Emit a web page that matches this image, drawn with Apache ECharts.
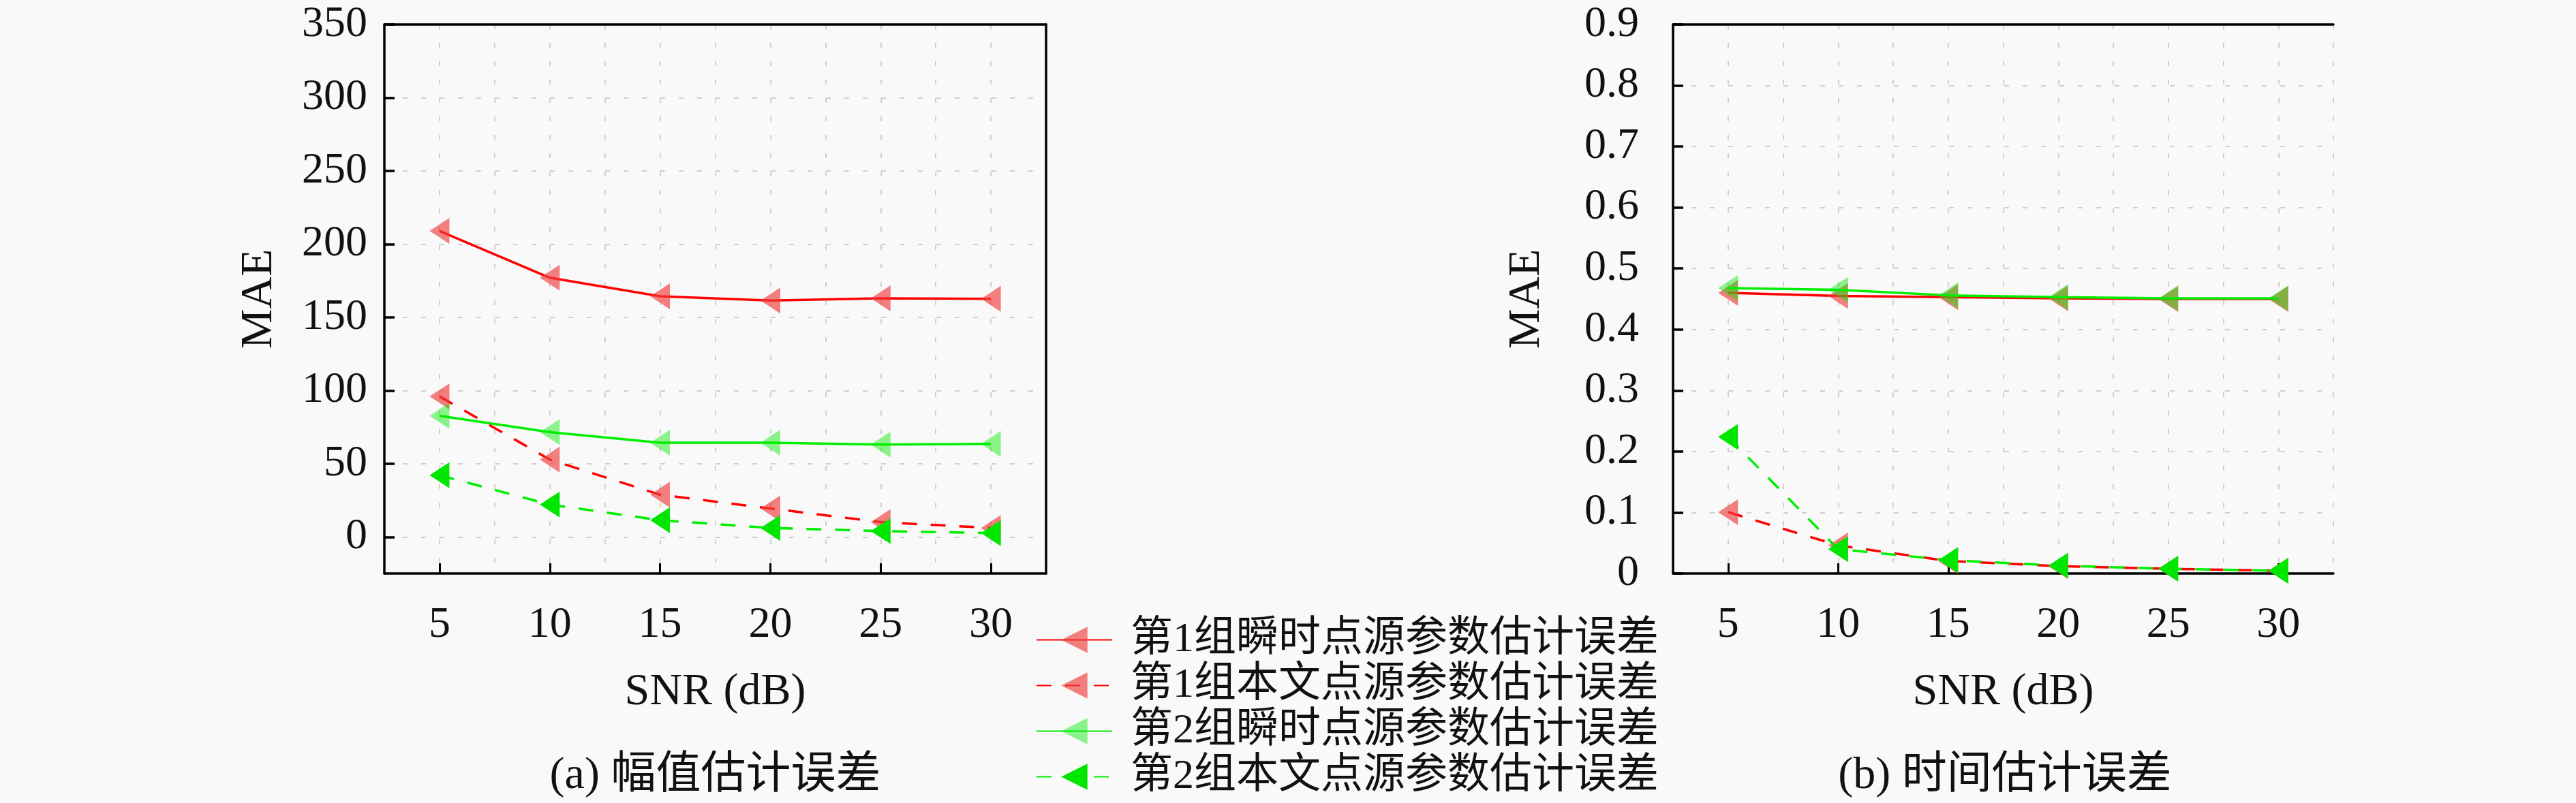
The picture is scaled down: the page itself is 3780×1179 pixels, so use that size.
<!DOCTYPE html>
<html>
<head>
<meta charset="utf-8">
<script src="https://cdn.jsdelivr.net/npm/echarts@6/dist/echarts.min.js"></script>
<style>
html,body{margin:0;padding:0;background:#f9f9f9;}
#c{width:3780px;height:1179px;}
</style>
</head>
<body>
<div id="c"></div>
<script>
// ---- data ----
const snr = [5, 10, 15, 20, 25, 30];
const seriesNames = ['第1组瞬时点源参数估计误差', '第1组本文点源参数估计误差', '第2组瞬时点源参数估计误差', '第2组本文点源参数估计误差'];
const ampInst1 = [209, 177, 164.4, 161.5, 163, 162.6];
const ampOurs1 = [96, 52.8, 28.8, 19.4, 10.1, 6.1];
const ampInst2 = [82.7, 71.5, 64.3, 64.3, 63, 63.5];
const ampOurs2 = [42.1, 22.1, 11.4, 6.1, 4.0, 2.6];
const timeInst1 = [0.460, 0.455, 0.453, 0.451, 0.450, 0.450];
const timeOurs1 = [0.1006, 0.046, 0.0205, 0.012, 0.0077, 0.0045];
const timeInst2 = [0.468, 0.465, 0.456, 0.453, 0.451, 0.451];
const timeOurs2 = [0.224, 0.040, 0.022, 0.0128, 0.0077, 0.0045];
const xRange = [2.5, 32.5];     // plotted x extent
const xTickRange = [5, 30];     // labelled x ticks, step 5
const ampRange = [-25, 350];    // plotted y extent (a)
const ampTickRange = [0, 350];  // labelled y ticks (a), step 50
const timeRange = [0, 0.9];     // y extent (b), step 0.1
const subTitles = ['(a) 幅值估计误差', '(b) 时间估计误差'];
const axisTitleX = 'SNR (dB)';
const axisTitleY = 'MAE';

// ---- layout / styles ----
const FONT = "'Liberation Serif', 'Noto Sans CJK SC', serif";
const P = [
  { left: 564, top: 36, width: 971, height: 806 },
  { left: 2455, top: 36, width: 969, height: 806 }
];
const gridLine = { show: true, lineStyle: { color: '#cfcfcf', width: 2, type: [7, 20] } };
const blackLine = { show: true, onZero: false, lineStyle: { color: '#000', width: 3.5 } };
const styles = [
  { line: '#ff0000', type: 'solid', marker: 'rgba(238,60,60,0.65)' },
  { line: '#ff0000', type: [22, 20], marker: 'rgba(238,60,60,0.65)' },
  { line: '#00ee00', type: 'solid', marker: 'rgba(0,235,0,0.45)' },
  { line: '#00ee00', type: [22, 20], marker: '#00e600' }
];
const none = { show: false };

function zip(xs, ys) { return xs.map((x, i) => [x, ys[i]]); }

// helper grid spanning only the labelled x tick range
function subX(p) {
  const k = p.width / (xRange[1] - xRange[0]);
  return { left: p.left + (xTickRange[0] - xRange[0]) * k, width: (xTickRange[1] - xTickRange[0]) * k, top: p.top, height: p.height };
}
// helper grid spanning only the labelled y tick range for (a)
function subY(p) {
  const k = p.height / (ampRange[1] - ampRange[0]);
  return { left: p.left, width: p.width, top: p.top + (ampRange[1] - ampTickRange[1]) * k, height: (ampTickRange[1] - ampTickRange[0]) * k };
}

const grids = [P[0], P[1], subX(P[0]), subY(P[0]), subX(P[1])];

const xAxes = [];
const yAxes = [];
function hiddenAxis(gridIndex, min, max) {
  return { type: 'value', gridIndex, min, max, axisLine: none, axisTick: none, axisLabel: none, splitLine: none };
}

// main x axes (0: plot a, 1: plot b): vertical grid every 2.5, labels at 5..30
[0, 1].forEach(g => {
  xAxes.push({ type: 'value', gridIndex: g, position: 'bottom', min: xRange[0], max: xRange[1], interval: 2.5,
    axisLine: blackLine, axisTick: none,
    axisLabel: { margin: 44, fontFamily: FONT, fontSize: 64, color: '#111',
      formatter: v => (v % 5 === 0 && v >= xTickRange[0] && v <= xTickRange[1]) ? String(v) : '' },
    splitLine: gridLine,
    name: axisTitleX, nameLocation: 'middle', nameGap: 142,
    nameTextStyle: { fontFamily: FONT, fontSize: 66, color: '#111' } });
});
// top border axes (2, 3)
[0, 1].forEach(g => {
  xAxes.push({ type: 'value', gridIndex: g, position: 'top', min: xRange[0], max: xRange[1],
    axisLine: blackLine, axisTick: none, axisLabel: none, splitLine: none });
});
// major x tick helpers (4: grid2, 5: grid4)
[2, 4].forEach(g => {
  xAxes.push({ type: 'value', gridIndex: g, position: 'bottom', min: xTickRange[0], max: xTickRange[1], interval: 5,
    axisLine: { show: false, onZero: false },
    axisTick: { show: true, inside: true, length: 15, lineStyle: { color: '#000', width: 3 } },
    axisLabel: none, splitLine: none });
});
// partner x for y-label helper grid (6: grid3)
xAxes.push(hiddenAxis(3, xRange[0], xRange[1]));

// y axes
// 0: plot a data axis
yAxes.push({ type: 'value', gridIndex: 0, position: 'left', min: ampRange[0], max: ampRange[1],
  axisLine: blackLine, axisTick: none, axisLabel: none, splitLine: none,
  name: axisTitleY, nameLocation: 'middle', nameGap: 150, nameRotate: 90,
  nameTextStyle: { fontFamily: FONT, fontSize: 66, color: '#111' } });
// 1: plot a right border
yAxes.push({ type: 'value', gridIndex: 0, position: 'right', min: ampRange[0], max: ampRange[1],
  axisLine: blackLine, axisTick: none, axisLabel: none, splitLine: none });
// 2: plot b data axis
yAxes.push({ type: 'value', gridIndex: 1, position: 'left', min: timeRange[0], max: timeRange[1], interval: 0.1,
  axisLine: blackLine,
  axisTick: { show: true, inside: true, length: 15, lineStyle: { color: '#000', width: 3.5 } },
  axisLabel: { margin: 50, fontFamily: FONT, fontSize: 64, color: '#111',
    formatter: v => String(Math.round(v * 10) / 10) },
  splitLine: gridLine,
  name: axisTitleY, nameLocation: 'middle', nameGap: 181, nameRotate: 90,
  nameTextStyle: { fontFamily: FONT, fontSize: 66, color: '#111' } });
// 3: partner for grid2, 4: partner for grid4
yAxes.push(hiddenAxis(2, ampRange[0], ampRange[1]));
yAxes.push(hiddenAxis(4, timeRange[0], timeRange[1]));
// 5: y labels / ticks / horizontal grid for plot a
yAxes.push({ type: 'value', gridIndex: 3, position: 'left', min: ampTickRange[0], max: ampTickRange[1], interval: 50,
  axisLine: { show: false, onZero: false },
  axisTick: { show: true, inside: true, length: 15, lineStyle: { color: '#000', width: 3.5 } },
  axisLabel: { margin: 25, fontFamily: FONT, fontSize: 64, color: '#111' },
  splitLine: gridLine });

function makeSeries(name, idx, xi, yi, data) {
  const s = styles[idx];
  return {
    name, type: 'line', xAxisIndex: xi, yAxisIndex: yi, data: zip(snr, data),
    symbol: 'triangle', symbolSize: [38, 29], symbolRotate: 90, symbolKeepAspect: false,
    showAllSymbol: true, animation: false, z: 3 + idx,
    lineStyle: { color: s.line, width: 3.5, type: s.type },
    itemStyle: { color: s.marker, borderWidth: 0 },
    emphasis: { disabled: true }
  };
}

const chart = echarts.init(document.getElementById('c'), null, { renderer: 'canvas' });
const TFONT = "66px 'Liberation Serif', 'Noto Sans CJK SC'";
chart.setOption({
  backgroundColor: '#f9f9f9',
  animation: false,
  grid: grids,
  xAxis: xAxes,
  yAxis: yAxes,
  legend: {
    orient: 'vertical', left: 1520, top: 906, padding: 0, itemGap: 0,
    itemWidth: 111, itemHeight: 48,
    data: seriesNames,
    textStyle: { fontFamily: FONT, fontSize: 62, color: '#111', lineHeight: 67, padding: [0, 0, 0, 22] },
    selectedMode: false
  },
  graphic: [
    { type: 'text', x: P[0].left + P[0].width / 2, y: 1140, style: { text: subTitles[0], font: TFONT, fill: '#111', align: 'center', verticalAlign: 'middle' } },
    { type: 'text', x: 2942, y: 1140, style: { text: subTitles[1], font: TFONT, fill: '#111', align: 'center', verticalAlign: 'middle' } }
  ],
  series: [
    makeSeries(seriesNames[0], 0, 0, 0, ampInst1),
    makeSeries(seriesNames[1], 1, 0, 0, ampOurs1),
    makeSeries(seriesNames[2], 2, 0, 0, ampInst2),
    makeSeries(seriesNames[3], 3, 0, 0, ampOurs2),
    makeSeries(seriesNames[0], 0, 1, 2, timeInst1),
    makeSeries(seriesNames[1], 1, 1, 2, timeOurs1),
    makeSeries(seriesNames[2], 2, 1, 2, timeInst2),
    makeSeries(seriesNames[3], 3, 1, 2, timeOurs2)
  ]
});
</script>
</body>
</html>
